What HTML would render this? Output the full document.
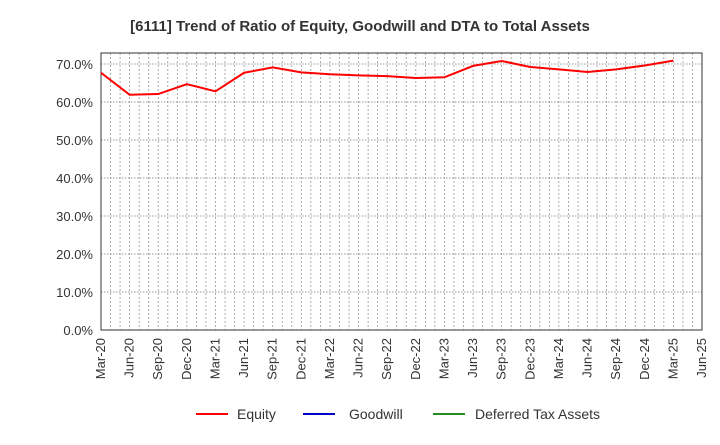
<!DOCTYPE html>
<html><head><meta charset="utf-8"><style>
body{margin:0;background:#fff;width:720px;height:440px;overflow:hidden;font-family:"Liberation Sans",sans-serif}
</style></head><body>
<svg width="720" height="440">
<text x="360" y="31" text-anchor="middle" font-size="15" font-weight="bold" fill="#333">[6111]  Trend of Ratio of Equity, Goodwill and DTA to Total Assets</text>
<g id="grid"></g>
<g id="yaxis"></g>
<g id="xaxis"></g>
<rect x="101" y="53" width="601" height="277" fill="none" stroke="#333" stroke-width="1"/>
<polyline id="equity" fill="none" stroke="#ff0000" stroke-width="2"/>
<g>
<line x1="196" y1="414" x2="228" y2="414" stroke="#ff0000" stroke-width="2"/>
<text x="237" y="419" font-size="14" fill="#333">Equity</text>
<line x1="303" y1="414" x2="335" y2="414" stroke="#0000cc" stroke-width="2"/>
<text x="349" y="419" font-size="14" fill="#333">Goodwill</text>
<line x1="433" y1="414" x2="465" y2="414" stroke="#228b22" stroke-width="2"/>
<text x="475" y="419" font-size="14" fill="#333">Deferred Tax Assets</text>
</g>
</svg>
<script>
const xLabels=["Mar-20","Jun-20","Sep-20","Dec-20","Mar-21","Jun-21","Sep-21","Dec-21","Mar-22","Jun-22","Sep-22","Dec-22","Mar-23","Jun-23","Sep-23","Dec-23","Mar-24","Jun-24","Sep-24","Dec-24","Mar-25","Jun-25"];
const yTicks=[0,10,20,30,40,50,60,70];
const equity=[67.7,61.9,62.1,64.7,62.8,67.7,69.1,67.8,67.3,67.0,66.8,66.3,66.5,69.5,70.8,69.2,68.6,67.9,68.6,69.6,70.9];
const NS="http://www.w3.org/2000/svg";
const X0=101,X1=702,Y0=330,PY=3.8;
const xs=i=>X0+(X1-X0)*i/(xLabels.length-1);
const xm=m=>X0+(X1-X0)*m/((xLabels.length-1)*3);
const ys=v=>Y0-v*PY;
const grid=document.getElementById('grid'),ya=document.getElementById('yaxis'),xa=document.getElementById('xaxis');
function mk(t,a,p){const e=document.createElementNS(NS,t);for(const k in a)e.setAttribute(k,a[k]);p.appendChild(e);return e;}
for(let m=1;m<(xLabels.length-1)*3;m++){
 const l=mk('line',{x1:xm(m),x2:xm(m),y1:53,y2:330,stroke:'#999','stroke-width':0.8,'stroke-dasharray':'2,2'},grid);
 
 
}
yTicks.forEach(v=>{
 if(v>0){const l=mk('line',{x1:X0,x2:X1,y1:ys(v),y2:ys(v),stroke:'#777','stroke-width':0.8,'stroke-dasharray':'1.5,1.5'},grid);
 
 }
 const t=mk('text',{x:93,y:ys(v)+5,'text-anchor':'end','font-size':13,fill:'#333'},ya);
 t.textContent=v.toFixed(1)+'%';
 
 
});
xLabels.forEach((s,i)=>{
 const x=xs(i);
 const t=mk('text',{x:x+4,y:338,'text-anchor':'end','font-size':13,fill:'#333',transform:`rotate(-90 ${x+4} 338)`},xa);
 t.textContent=s;
 
 
});
document.getElementById('equity').setAttribute('points',equity.map((v,i)=>xs(i)+','+ys(v)).join(' '));
</script>
</body></html>
